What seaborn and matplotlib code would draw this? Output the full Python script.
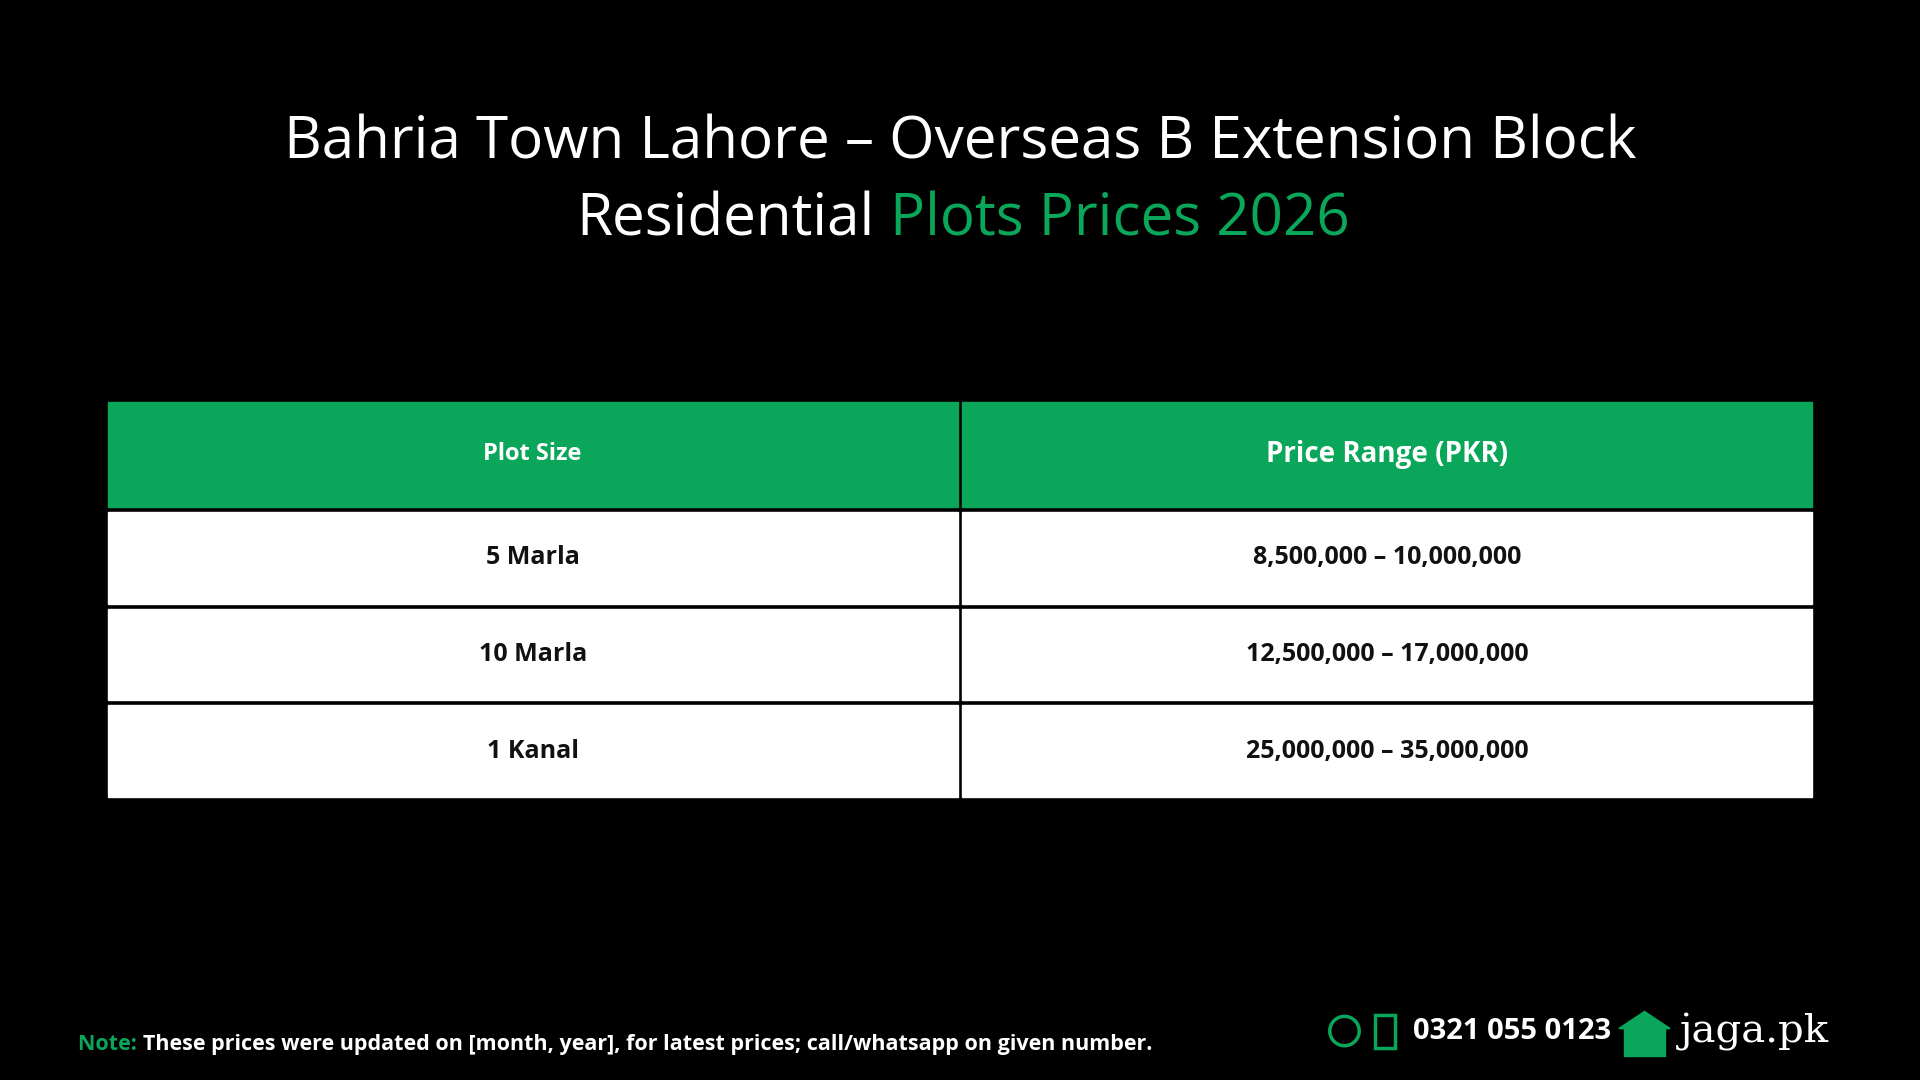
import matplotlib
matplotlib.use("Agg")
import matplotlib.pyplot as plt
import seaborn as sns
from matplotlib.patches import Rectangle

sns.set_theme(style="white")
plt.rcParams['font.family'] = ['Open Sans', 'DejaVu Sans']

title_line1 = "Bahria Town Lahore – Overseas B Extension Block"
title_line2_white = "Residential"
title_line2_green = "Plots Prices 2026"
headers = ["Plot Size", "Price Range (PKR)"]
plot_sizes = ["5 Marla", "10 Marla", "1 Kanal"]
price_ranges = ["8,500,000 – 10,000,000", "12,500,000 – 17,000,000", "25,000,000 – 35,000,000"]
note_label = "Note:"
note_text = "These prices were updated on [month, year], for latest prices; call/whatsapp on given number."
phone = "0321 055 0123"
brand = "jaga.pk"

GREEN = "#0aa65a"
W, H = 1568, 882
fig = plt.figure(figsize=(19.2, 10.8), dpi=100, facecolor="black")
ax = fig.add_axes([0, 0, 1, 1])
ax.set_xlim(0, W); ax.set_ylim(H, 0); ax.axis("off"); ax.set_facecolor("black")

ax.text(784, 117, title_line1, color="white", fontsize=42, ha="center", va="center")
ax.text(714, 180, title_line2_white, color="white", fontsize=42, ha="right", va="center")
ax.text(727, 180, title_line2_green, color=GREEN, fontsize=42, ha="left", va="center")

cols = [(88, 782), (786, 1480)]
for (x0, x1), h in zip(cols, headers):
    ax.add_patch(Rectangle((x0, 328), x1 - x0, 86, color=GREEN))
    ax.text((x0 + x1) / 2, 371, h, color="white", fontsize=20 if h == headers[1] else 17,
            fontweight="bold", ha="center", va="center")
rows_y = [(418, 493), (497, 572), (576, 651)]
for (y0, y1), a, b in zip(rows_y, plot_sizes, price_ranges):
    for (x0, x1), t in zip(cols, [a, b]):
        ax.add_patch(Rectangle((x0, y0), x1 - x0, y1 - y0, color="white"))
        ax.text((x0 + x1) / 2, (y0 + y1) / 2, t, color="#111111", fontsize=18,
                fontweight="bold", ha="center", va="center")

t = ax.text(64, 853, note_label + " ", color=GREEN, fontsize=15.5, fontweight="bold", va="center")
fig.canvas.draw()
bb = t.get_window_extent().transformed(ax.transData.inverted())
ax.text(bb.x1, 853, note_text, color="white", fontsize=15.5, fontweight="bold", va="center")

ax.text(1154, 842, phone, color="white", fontsize=21, fontweight="bold", va="center")
ax.text(1372, 843, brand, color="white", fontsize=29, family=["DejaVu Serif"], va="center")
ax.add_patch(plt.Circle((1098, 842), 12, fill=False, ec=GREEN, lw=2.5))
ax.add_patch(Rectangle((1123, 829), 16, 27, fill=False, ec=GREEN, lw=2.5))
ax.add_patch(Rectangle((1326, 838), 34, 24, color=GREEN))
ax.fill([1322, 1343, 1364], [840, 826, 840], color=GREEN)

fig.savefig("out.png", dpi=100, facecolor="black")
